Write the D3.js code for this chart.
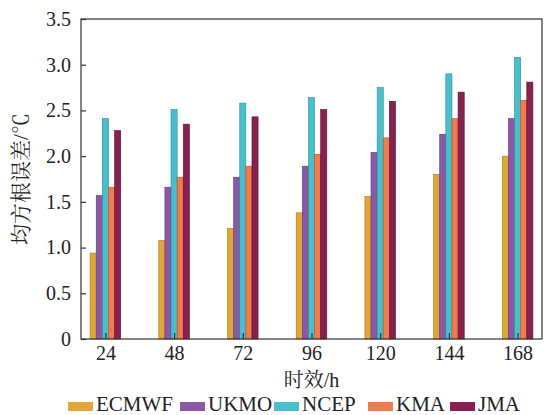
<!DOCTYPE html>
<html lang="en">
<head>
    <meta charset="UTF-8">
    <title>RMSE bar chart</title>
    <script src="https://d3js.org/d3.v7.min.js"></script>
    <style>
        html, body {
            margin: 0;
            background: #fff;
        }
    </style>
</head>
<body>
<div class="chart"></div>

<script>

    // forecast lead time (h)
    var leadTimes = ["24", "48", "72", "96", "120", "144", "168"];
    var models = ["ECMWF", "UKMO", "NCEP", "KMA", "JMA"];

    // RMSE (°C)
    var ecmwf = [0.94, 1.08, 1.21, 1.38, 1.56, 1.80, 2.00];
    var ukmo  = [1.57, 1.66, 1.77, 1.89, 2.04, 2.24, 2.41];
    var ncep  = [2.41, 2.51, 2.58, 2.64, 2.75, 2.90, 3.08];
    var kma   = [1.66, 1.77, 1.89, 2.02, 2.20, 2.41, 2.61];
    var jma   = [2.28, 2.35, 2.43, 2.51, 2.60, 2.70, 2.81];

    var yTicks = [0, 0.5, 1.0, 1.5, 2.0, 2.5, 3.0, 3.5];

    var series = [ecmwf, ukmo, ncep, kma, jma];
    var colors = ["#e0a63a", "#8b58a6", "#48bfcb", "#ef7b4f", "#88214f"];
    var strokes = ["#a77a22", "#5e3778", "#2b8a94", "#b5552f", "#5a1233"];

    var serif = "Liberation Serif";
    var cjk = "Liberation Serif, Noto Serif CJK SC";

    var width = 549, height = 415;
    var margin = {left: 81, right: 7, top: 19, bottom: 76};
    var plotW = width - margin.left - margin.right;
    var plotH = height - margin.top - margin.bottom;

    var svg = d3.select('.chart').append('svg')
        .attr('width', width)
        .attr('height', height);

    var x0 = d3.scalePoint()
        .domain(leadTimes)
        .range([margin.left, margin.left + plotW])
        .padding(0.355);

    var x1 = d3.scaleBand()
        .domain(models)
        .range([-15.3, 15.3]);

    var y = d3.scaleLinear()
        .domain([0, 3.5])
        .range([margin.top + plotH, margin.top]);

    // bars
    var groups = svg.append('g').selectAll('g')
        .data(leadTimes)
        .enter().append('g')
        .attr('transform', function (d) { return 'translate(' + x0(d) + ',0)'; });

    groups.selectAll('rect')
        .data(function (d, i) {
            return models.map(function (m, j) { return {model: m, j: j, v: series[j][i]}; });
        })
        .enter().append('rect')
        .attr('x', function (d) { return x1(d.model); })
        .attr('width', x1.bandwidth())
        .attr('y', function (d) { return y(d.v); })
        .attr('height', function (d) { return y(0) - y(d.v); })
        .attr('fill', function (d) { return colors[d.j]; })
        .attr('stroke', function (d) { return strokes[d.j]; })
        .attr('stroke-width', 0.6);

    // frame
    svg.append('rect')
        .attr('x', margin.left)
        .attr('y', margin.top)
        .attr('width', plotW)
        .attr('height', plotH)
        .attr('fill', 'none')
        .attr('stroke', '#333')
        .attr('stroke-width', 1.2);

    // y axis, ticks inside
    var yAxis = d3.axisLeft(y)
        .tickValues(yTicks)
        .tickSize(-5)
        .tickPadding(10)
        .tickFormat(function (d) { return d === 0 ? '0' : d3.format('.1f')(d); });

    var gy = svg.append('g')
        .attr('transform', 'translate(' + margin.left + ',0)')
        .call(yAxis);
    gy.attr('font-family', serif).attr('font-size', 20);
    gy.select('.domain').remove();
    gy.selectAll('.tick line').attr('stroke', '#333').attr('stroke-width', 1.2);
    gy.selectAll('.tick text').attr('fill', '#222');

    // x axis, ticks inside
    var xAxis = d3.axisBottom(x0)
        .tickSize(-6)
        .tickPadding(7);

    var gx = svg.append('g')
        .attr('transform', 'translate(0,' + (margin.top + plotH) + ')')
        .call(xAxis);
    gx.attr('font-family', serif).attr('font-size', 20);
    gx.select('.domain').remove();
    gx.selectAll('.tick line').attr('stroke', '#333').attr('stroke-width', 1.2);
    gx.selectAll('.tick text').attr('fill', '#222');

    // axis titles
    svg.append('text')
        .attr('x', margin.left + plotW / 2)
        .attr('y', 387)
        .attr('text-anchor', 'middle')
        .attr('font-family', cjk)
        .attr('font-size', 20)
        .attr('fill', '#222')
        .text('时效/h');

    svg.append('text')
        .attr('transform', 'translate(28,' + (margin.top + plotH / 2) + ') rotate(-90)')
        .attr('text-anchor', 'middle')
        .attr('font-family', cjk)
        .attr('font-size', 21)
        .attr('fill', '#222')
        .text('均方根误差/℃');

    // legend
    var legendX = [68, 180, 274, 368, 450];
    var legend = svg.append('g')
        .attr('font-family', serif)
        .attr('font-size', 21);
    models.forEach(function (m, j) {
        legend.append('rect')
            .attr('x', legendX[j])
            .attr('y', 402)
            .attr('width', 25)
            .attr('height', 9)
            .attr('fill', colors[j]);
        legend.append('text')
            .attr('x', legendX[j] + 28)
            .attr('y', 411)
            .attr('fill', '#222')
            .text(m);
    });

</script>
</body>
</html>
